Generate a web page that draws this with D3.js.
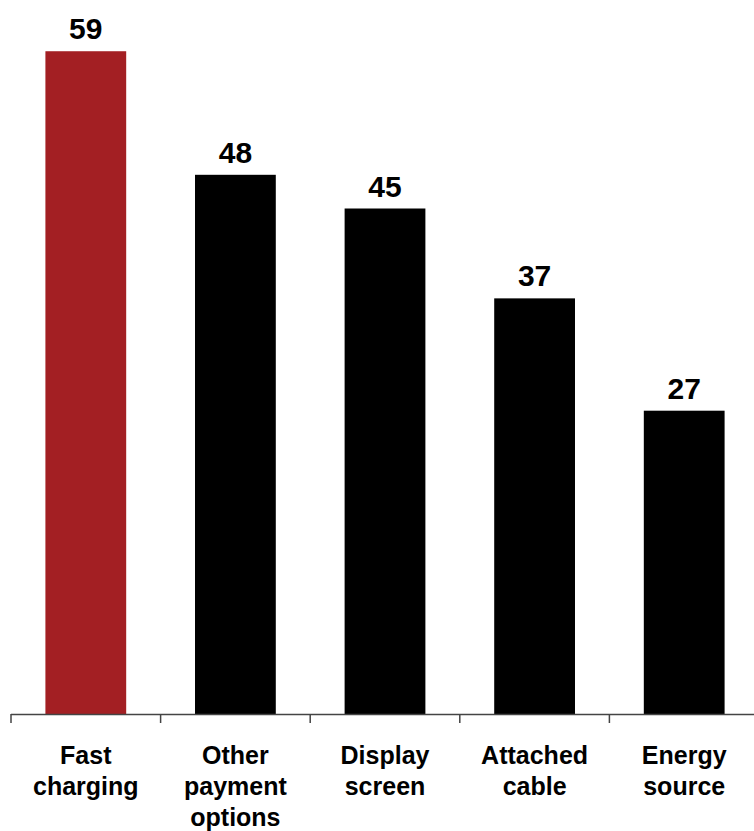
<!DOCTYPE html>
<html>
<head>
<meta charset="utf-8">
<script src="https://cdn.jsdelivr.net/npm/d3@7"></script>
<style>
  body { margin: 0; background: #fff; }
  svg { display: block; font-family: "Liberation Sans", Arial, sans-serif; }
</style>
</head>
<body>
<div id="chart"></div>
<script>
// Data
const categories = [
  ["Fast", "charging"],
  ["Other", "payment", "options"],
  ["Display", "screen"],
  ["Attached", "cable"],
  ["Energy", "source"],
];
const values = [59, 48, 45, 37, 27];
const highlightIndex = 0;

const COLORS = {
  highlight: "#a31f23",
  bar: "#000000",
  axis: "#444444",
  text: "#000000",
};

const width = 754;
const height = 831;
const baseline = 714;

const svg = d3.select("#chart").append("svg")
  .attr("width", width)
  .attr("height", height);

const keys = categories.map((c, i) => i);

const x = d3.scaleBand()
  .domain(keys)
  .range([11, 759])
  .padding(0);

const y = d3.scaleLinear()
  .domain([0, 60])
  .range([baseline, 40]);

const barFrac = 0.54;
const barW = x.bandwidth() * barFrac;

// Bars
svg.selectAll(".bar")
  .data(values)
  .enter()
  .append("rect")
  .attr("class", "bar")
  .attr("x", (d, i) => x(i) + (x.bandwidth() - barW) / 2)
  .attr("y", (d) => y(d))
  .attr("width", barW)
  .attr("height", (d) => y(0) - y(d))
  .attr("fill", (d, i) => i === highlightIndex ? COLORS.highlight : COLORS.bar);

// Value labels
svg.selectAll(".value")
  .data(values)
  .enter()
  .append("text")
  .attr("class", "value")
  .attr("x", (d, i) => x(i) + x.bandwidth() / 2)
  .attr("y", (d) => y(d) - 12)
  .attr("text-anchor", "middle")
  .style("font-size", "30px")
  .style("font-weight", "bold")
  .style("fill", COLORS.text)
  .text((d) => d);

// Axis line and boundary ticks
svg.append("line")
  .attr("x1", x.range()[0])
  .attr("x2", width)
  .attr("y1", baseline + 0.5)
  .attr("y2", baseline + 0.5)
  .attr("stroke", COLORS.axis)
  .attr("stroke-width", 1.5);

svg.selectAll(".tick")
  .data(keys)
  .enter()
  .append("line")
  .attr("class", "tick")
  .attr("x1", (d) => x(d))
  .attr("x2", (d) => x(d))
  .attr("y1", baseline)
  .attr("y2", baseline + 9)
  .attr("stroke", COLORS.axis)
  .attr("stroke-width", 1.5);

// Category labels
const labels = svg.selectAll(".cat")
  .data(categories)
  .enter()
  .append("text")
  .attr("class", "cat")
  .attr("x", (d, i) => x(i) + x.bandwidth() / 2)
  .attr("y", 764)
  .attr("text-anchor", "middle")
  .style("font-size", "25px")
  .style("font-weight", "bold")
  .style("fill", COLORS.text);

labels.selectAll("tspan")
  .data((d) => d)
  .enter()
  .append("tspan")
  .attr("x", function () { return d3.select(this.parentNode).attr("x"); })
  .attr("dy", (d, j) => j === 0 ? 0 : 31)
  .text((d) => d);
</script>
</body>
</html>
